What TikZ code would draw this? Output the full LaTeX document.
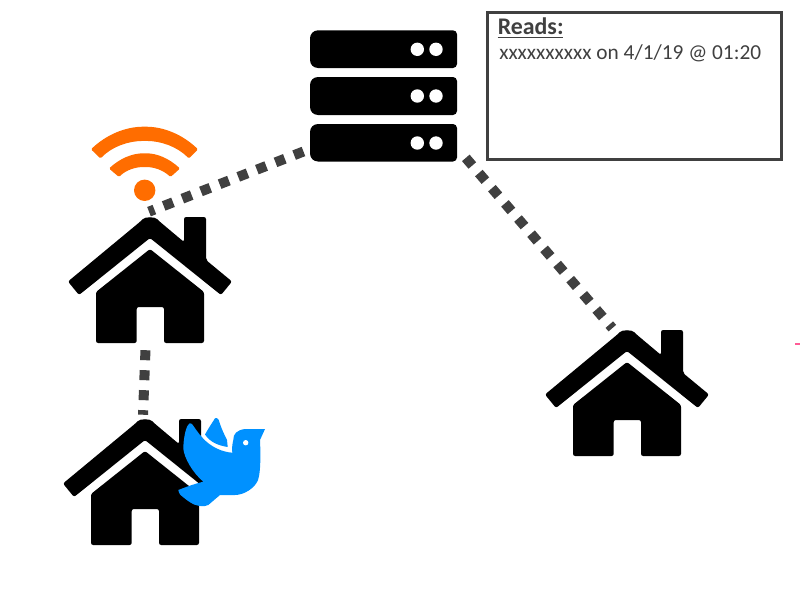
\documentclass[tikz,border=0pt]{standalone}
\usepackage{fontspec}
\setmainfont{Carlito}
\definecolor{connGray}{HTML}{404040}
\definecolor{wifiOrange}{HTML}{FF6D00}
\definecolor{birdBlue}{HTML}{0091FF}
\definecolor{markPink}{HTML}{FF5C96}
\tikzset{
  x=0.75pt,y=-0.75pt,
  conn/.style={draw=connGray,line width=7.5pt,dash pattern=on 7.5pt off 7.5pt},
  housebox/.style={inner sep=0pt,minimum width=121.5pt,minimum height=94.5pt},
  serverdot/.style={fill=white},
  readsbox/.style={draw=connGray,line width=2.25pt,inner sep=0pt,minimum width=220.5pt,minimum height=109.7pt},
  readstext/.style={text=connGray,inner sep=0pt,anchor=base west},
  house/.pic={
    % roof and chimney (origin at apex)
    \fill[black,rounded corners=1.6pt]
      (-9,4) .. controls (-5,-0.5) and (5,-0.5) .. (9,4) -- (34,25) -- (34,0) -- (56,0) -- (56,43)
      -- (82,64.5) -- (71,78) -- (0,21) -- (-71,78) -- (-82,64.5) -- cycle;
    % body with door
    \fill[black,rounded corners=1.6pt]
      (0,32) -- (54,75) -- (54,126) -- (14,126) -- (14,90) -- (-13.3,90) -- (-13.3,126)
      -- (-54,126) -- (-54,75) -- cycle;
  },
}
\begin{document}
\begin{tikzpicture}
\useasboundingbox (0,0) rectangle (800,600);
% houses
\node[housebox] (house1) at (150,280) {};
\node[housebox] (house2) at (145,482) {};
\node[housebox] (house3) at (627,393) {};
\pic at (150,217) {house};
\pic at (145,419) {house};
\pic at (627,330) {house};
% server
\foreach \ya/\yb in {30.3/68,77/115,124/161.5}{
  \fill[black] (383,\ya) [rounded corners=3pt] -- (457,\ya) -- (457,\yb) -- (383,\yb)
    [rounded corners=6pt] -- (310,\yb) -- (310,\ya) -- cycle;
}
\node[inner sep=0pt,minimum width=110.25pt,minimum height=98.6pt] (server) at (383.5,95.9) {};
\foreach \yy in {49.3,96,143}{
  \fill[serverdot] (417.3,\yy) circle[radius=6.7];
  \fill[serverdot] (436,\yy) circle[radius=6.7];
}
% wifi
\fill[wifiOrange] (144.7,190.3) circle[radius=10.7];
\fill[wifiOrange,rounded corners=1pt] (91,149.3) .. controls (106,135) and (125,126.7) .. (144.7,126.7)
  .. controls (164.4,126.7) and (183,135) .. (198,149.3) -- (189,158.5)
  .. controls (177,146.5) and (161,140.9) .. (144.7,140.9)
  .. controls (128.4,140.9) and (112,146.5) .. (100.5,158.5) -- cycle;
\fill[wifiOrange,rounded corners=1pt] (109,168.5) .. controls (120,158.5) and (132,153.3) .. (144.7,153.3)
  .. controls (157.4,153.3) and (169,158.5) .. (180,168.5) -- (170.5,177)
  .. controls (163,170) and (154,167) .. (144.7,167)
  .. controls (135.4,167) and (126,170) .. (119,177) -- cycle;
% connectors
\draw[conn] ([xshift=-4.7pt,yshift=7.8pt]server.south west) -- ([xshift=-0.75pt,yshift=3.8pt]house1.north);
\draw[conn] ([xshift=-3.4pt,yshift=-5.2pt]house1.south) -- ([xshift=-1.5pt,yshift=3pt]house2.north);
\draw[conn] ([xshift=6.4pt,yshift=3pt]server.south east) -- ([xshift=-11pt,yshift=1.2pt]house3.north);
% bird
\fill[birdBlue] (265,429) -- (245,429) .. controls (237,430) and (233,434) .. (233.3,440)
  .. controls (232,445) and (232,449) .. (232.3,452.7)
  .. controls (222,452) and (211,447) .. (203,438.3)
  .. controls (198,433) and (195,428) .. (192,424)
  .. controls (190.5,422.5) and (189,423) .. (188,425)
  .. controls (185,430) and (183.5,440) .. (183.3,448.3)
  .. controls (184,458) and (193,473) .. (203.3,481.7)
  .. controls (194,484) and (186,487) .. (178.3,490)
  .. controls (179,494) and (181,496) .. (183.3,497.3)
  .. controls (188,501) and (193,505) .. (198.3,505.7)
  .. controls (203,506.5) and (206,506.5) .. (208.3,505)
  -- (220,495) -- (235,495)
  .. controls (244,495) and (255,488) .. (258,480)
  .. controls (261,472) and (260.5,450) .. (260,440) -- cycle;
\fill[birdBlue] (215,418.3) .. controls (212,423) and (208,429) .. (205,434.5)
  .. controls (210,442) and (218,445.5) .. (227.7,447)
  -- (227,440) .. controls (223,432) and (220.5,426) .. (218.5,419.5)
  .. controls (217.5,418) and (216,417.5) .. (215,418.3) -- cycle;
\fill[white] (245.7,442.7) circle[radius=2.7];
% reads box
\node[readsbox] (reads) at (634.5,85.9) {};
\node[readstext,font=\fontsize{17.9pt}{20pt}\selectfont\bfseries] (readstitle) at (497.5,34) {Reads:};
\draw[connGray,line width=0.9pt] (497.5,37.5) -- (563,37.5);
\node[readstext,font=\fontsize{16pt}{18pt}\selectfont] (readsline) at (499,59) {xxxxxxxxxx on 4/1/19 @ 01:20};
% pink tick
\fill[markPink] (795,342.5) rectangle (800,344.5);
\end{tikzpicture}
\end{document}
